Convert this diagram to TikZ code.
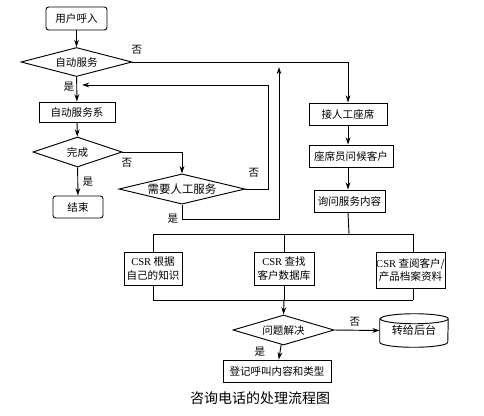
\documentclass[tikz,border=0pt]{standalone}
\usepackage{fontspec}
\setmainfont{Liberation Serif}
\newfontfamily\cjk{Noto Sans CJK SC}
\usetikzlibrary{shapes.geometric,arrows.meta}
\tikzset{
  base/.style={draw, line width=0.7pt, inner sep=0pt, align=center,
    font=\cjk\fontsize{7.9}{9.8}\selectfont},
  box/.style={base, rectangle},
  rbox/.style={base, rectangle, rounded corners=2pt},
  dia/.style={base, diamond, aspect=3.5},
  plain/.style={inner sep=0pt, font=\cjk\fontsize{7.9}{9.8}\selectfont},
  line/.style={draw, line width=0.7pt},
  arr/.style={line, -{Stealth[length=5.5pt,width=3.6pt]}},
}
\begin{document}
\begin{tikzpicture}[x=0.75pt,y=-0.75pt]
\useasboundingbox (0,0) rectangle (484,415);
\fill[white] (0,0) rectangle (484,415);
% nodes
\node[rbox, minimum width=45.75pt, minimum height=17.25pt] (u) at (76.5,18.5) {用户呼入};
\node[dia, minimum width=83.25pt, minimum height=21.75pt] (d1) at (76.5,62) {自动服务};
\node[box, minimum width=57pt, minimum height=15pt] (as) at (77,112) {自动服务系};
\node[dia, minimum width=66.75pt, minimum height=22.5pt] (d2) at (77.5,152) {完成};
\node[dia, minimum width=94.5pt, minimum height=21.75pt, font=\cjk\fontsize{8.6}{10}\selectfont] (d3) at (182,189) {需要人工服务};
\node[rbox, minimum width=37.5pt, minimum height=16.5pt] (end) at (78,207) {结束};
\node[box, minimum width=58.5pt, minimum height=16.5pt] (jr) at (348,114) {接人工座席};
\node[box, minimum width=63pt, minimum height=16.5pt] (zx) at (351,156) {座席员问候客户};
\node[box, minimum width=53.25pt, minimum height=16.5pt] (xw) at (349.5,201) {询问服务内容};
\node[box, minimum width=43.5pt, minimum height=24.75pt] (k1) at (153,268.5) {{\rmfamily CSR} 根据\\自己的知识};
\node[box, minimum width=45pt, minimum height=24.75pt] (k2) at (284,268.5) {{\rmfamily CSR} 查找\\客户数据库};
\node[box, minimum width=51.75pt, minimum height=27pt] (k3) at (410.5,270) {{\rmfamily CSR} 查阅客户/\\产品档案资料};
\node[dia, minimum width=75.75pt, minimum height=22.5pt] (d4) at (283.5,330) {问题解决};
\node[plain, minimum width=51pt, minimum height=24.75pt, font=\cjk\fontsize{8.3}{10}\selectfont] (zh) at (414,330.5) {\raisebox{-3.4pt}{转给后台}};
\draw[line] ([yshift=-3.75pt]zh.north west) -- ([yshift=3.75pt]zh.south west)
  arc[start angle=180, end angle=360, x radius=25.5pt, y radius=3.75pt]
  -- ([yshift=-3.75pt]zh.north east)
  arc[start angle=0, end angle=360, x radius=25.5pt, y radius=3.75pt];
\node[box, minimum width=81pt, minimum height=16.5pt] (dj) at (277,371) {登记呼叫内容和类型};
\node[inner sep=0pt, font=\cjk\fontsize{10.5}{12}\selectfont] (cap) at (260,398) {咨询电话的处理流程图};
% labels
\node[plain] (l1) at (137,50) {否};
\node[plain] (l2) at (69,87) {是};
\node[plain] (l3) at (127,163) {否};
\node[plain] (l4) at (88,182) {是};
\node[plain] (l5) at (254,173) {否};
\node[plain] (l6) at (173,219) {是};
\node[plain] (l7) at (355,322) {否};
\node[plain] (l8) at (260,352) {是};
% coordinates
\coordinate (bk) at (82,85);
\coordinate (c1) at (268,85);
\coordinate (c2) at (279,219);
\coordinate (c3) at (279,67);
\coordinate (t0) at (349,234);
\coordinate (t1) at (153,234);
\coordinate (t2) at (284,234);
\coordinate (t3) at (413,234);
\coordinate (b1) at (153,300);
\coordinate (b2) at (284,300);
\coordinate (b3) at (413,300);
% connectors
\draw[arr] (u) -- (d1);
\draw[arr] (d1.east) -| (jr.north);
\draw[arr] (d3.east) -| (c1) -- (bk);
\draw[arr] (d3.south) |- (c2) -- (c3);
\draw[arr] (d1) -- (as);
\draw[arr] (as) -- (d2);
\draw[arr] (d2.east) -| (d3.north);
\draw[arr] (d2) -- (end);
\draw[arr] (jr) -- (zx.north -| jr.south);
\draw[arr] (zx.south -| jr.south) -- (xw.north -| jr.south);
\draw[line] (xw.south -| jr.south) -- (t0);
\draw[line] (t1) -- (t3);
\draw[line] (t1) -- (k1.north);
\draw[line] (t2) -- (k2.north);
\draw[line] (t3) -- (t3 |- k3.north);
\draw[line] (k1.south) -- (b1);
\draw[line] (k2.south) -- (b2);
\draw[line] (b3 |- k3.south) -- (b3);
\draw[line] (b1) -- (b3);
\draw[arr] (b2) -- (d4.north);
\draw[arr] (d4.east) -- (zh.west);
\draw[arr] (d4) -- (dj);
\end{tikzpicture}
\end{document}
